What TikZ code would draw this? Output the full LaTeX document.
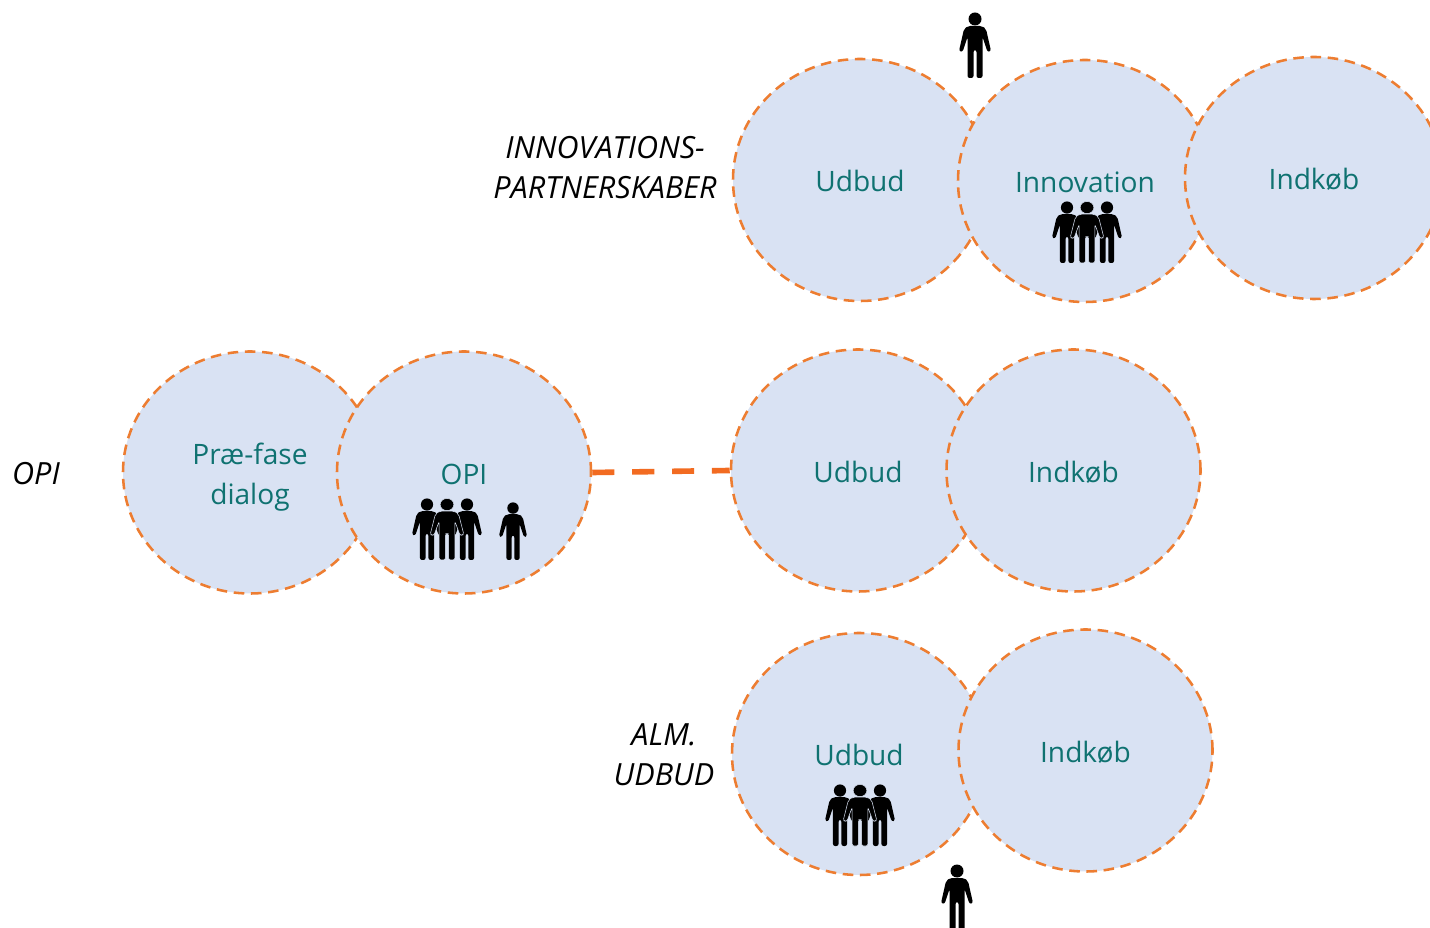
\documentclass[tikz,border=0pt]{standalone}
\usepackage{fontspec}
\setmainfont{Open Sans}
\usepackage{xcolor}
\usetikzlibrary{shapes.geometric}
\definecolor{myfill}{HTML}{D9E2F3}
\definecolor{myedge}{HTML}{ED7D31}
\definecolor{myline}{HTML}{F26B21}
\definecolor{myteal}{HTML}{0F7271}
\tikzset{>=latex}
\tikzstyle{phase}=[ellipse,draw=myedge,fill=myfill,text=myteal,inner sep=0,line width=1.45pt,
  dash pattern=on 6pt off 3.8pt,minimum width=254*0.02cm,minimum height=242*0.02cm,
  align=center,font=\fontsize{16}{22.7}\selectfont,text height=13.2pt,text depth=0pt]
\tikzstyle{tag}=[align=center,font=\fontsize{17.4}{22.7}\selectfont\itshape,inner sep=0]
\tikzstyle{link}=[myline,line width=3.2pt,dash pattern=on 12.6pt off 10.1pt]
\tikzset{person/.pic={
    \path[fill=black,pic actions] (0,-59) circle (6.5);
    \path[fill=black,pic actions,rounded corners=1.2] (-1.5,0) -- (-7.5,0) -- (-7.5,-41) -- (-12.5,-26) -- (-16,-27)
      -- (-11,-49) -- (-7,-52) -- (7,-52) -- (11,-49) -- (16,-27) -- (12.5,-26) -- (7.5,-41)
      -- (7.5,0) -- (1.5,0) -- (1.5,-28) -- (-1.5,-28) -- cycle;
  },
  crowd/.pic={
    \pic[scale=0.94] at (-20,0) {person};
    \pic[scale=0.94] at (20,0) {person};
    \pic[scale=0.94,xscale=1.12,draw=myfill,line width=0.3pt] at (0,0) {person};
  }}
\begin{document}
\begin{tikzpicture}[x=0.02cm,y=-0.02cm]
  \clip (0,0) rectangle (1430,928);
  % top row
  \node[phase] (U1) at (860,180) {Udbud};
  \node[phase] (N1) at (1085,181) {Innovation};
  \node[phase,minimum width=258*0.02cm] (K1) at (1314,178) {Indkøb};
  % middle row
  \node[phase,text height=36.8pt] (D2) at (250,472.5) {Præ-fase\\dialog};
  \node[phase] (O2) at (464,472.5) {OPI};
  \node[phase] (U2) at (858,470.5) {Udbud};
  \node[phase] (K2) at (1073.5,470.5) {Indkøb};
  % bottom row
  \node[phase] (U3) at (859,754) {Udbud};
  \node[phase] (K3) at (1085.5,750.5) {Indkøb};
  \draw[link] (O2.east) -- (U2.west);
  \node[tag] (L1) at (605,167.5) {INNOVATIONS-\\PARTNERSKABER};
  \node[tag] (L2) at (36,473.5) {OPI};
  \node[tag] (L3) at (664,754.5) {ALM.\\UDBUD};
  \pic at (975,78) {person};
  \pic at (1087,263) {crowd};
  \pic at (447,560) {crowd};
  \pic[scale=0.88] at (513,560) {person};
  \pic at (860,846) {crowd};
  \pic at (957,930) {person};
\end{tikzpicture}
\end{document}
